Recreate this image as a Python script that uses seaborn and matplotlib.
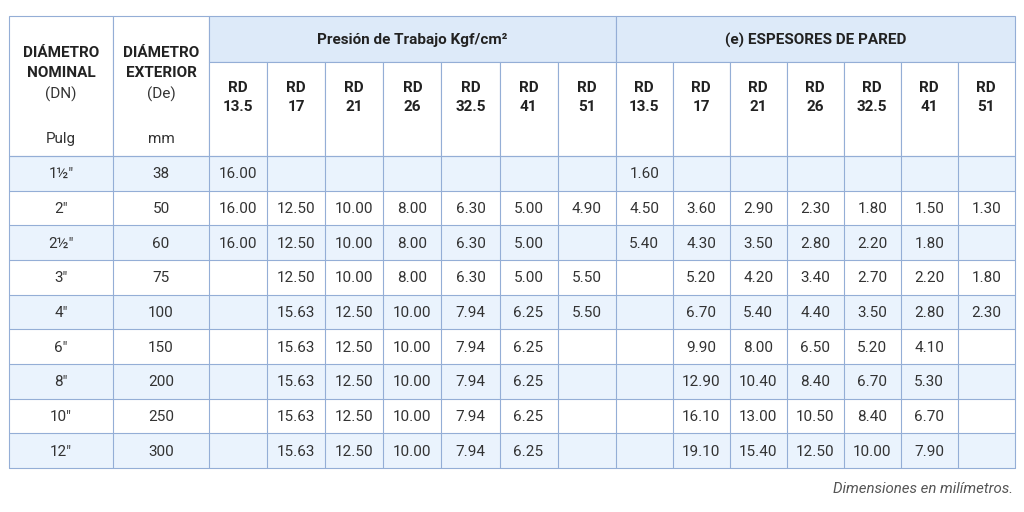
import numpy as np
import pandas as pd
import seaborn as sns
import matplotlib
matplotlib.use("Agg")
import matplotlib.pyplot as plt
from matplotlib.colors import ListedColormap
from matplotlib.patches import Rectangle

# ---------------- data ----------------
dn_labels = ['1½"', '2"', '2½"', '3"', '4"', '6"', '8"', '10"', '12"']
de_mm = [38, 50, 60, 75, 100, 150, 200, 250, 300]
rd_labels = ["13.5", "17", "21", "26", "32.5", "41", "51"]
N = None
pressure = [
    [16.00, N, N, N, N, N, N],
    [16.00, 12.50, 10.00, 8.00, 6.30, 5.00, 4.90],
    [16.00, 12.50, 10.00, 8.00, 6.30, 5.00, N],
    [N, 12.50, 10.00, 8.00, 6.30, 5.00, 5.50],
    [N, 15.63, 12.50, 10.00, 7.94, 6.25, 5.50],
    [N, 15.63, 12.50, 10.00, 7.94, 6.25, N],
    [N, 15.63, 12.50, 10.00, 7.94, 6.25, N],
    [N, 15.63, 12.50, 10.00, 7.94, 6.25, N],
    [N, 15.63, 12.50, 10.00, 7.94, 6.25, N],
]
wall = [
    [1.60, N, N, N, N, N, N],
    [4.50, 3.60, 2.90, 2.30, 1.80, 1.50, 1.30],
    [5.40, 4.30, 3.50, 2.80, 2.20, 1.80, N],
    [N, 5.20, 4.20, 3.40, 2.70, 2.20, 1.80],
    [N, 6.70, 5.40, 4.40, 3.50, 2.80, 2.30],
    [N, 9.90, 8.00, 6.50, 5.20, 4.10, N],
    [N, 12.90, 10.40, 8.40, 6.70, 5.30, N],
    [N, 16.10, 13.00, 10.50, 8.40, 6.70, N],
    [N, 19.10, 15.40, 12.50, 10.00, 7.90, N],
]
left_headers = [["DIÁMETRO", "NOMINAL", "(DN)", "Pulg"],
                ["DIÁMETRO", "EXTERIOR", "(De)", "mm"]]
group_titles = ["Presión de Trabajo Kgf/cm²", "(e) ESPESORES DE PARED"]
footnote = "Dimensiones en milímetros."

# ---------------- style ----------------
sns.set_theme(style="white")
plt.rcParams['font.family'] = ['Roboto', 'DejaVu Sans']

LINE = "#94aed6"
STRIPE = "#eaf3fd"
HEAD = "#ddeaf9"
TXT = "#333333"
HTXT = "#222222"
FS = 11
BW = "bold"

fig = plt.figure(figsize=(10.24, 5.12), dpi=100)
ax = fig.add_axes([0, 0, 1, 1])
ax.set_xlim(0, 1024)
ax.set_ylim(512, 0)
ax.axis("off")

# layout
x0 = 9
col_w = [104, 96] + [58.1] * 7 + [57.0] * 7
x_edges = np.concatenate([[x0], x0 + np.cumsum(col_w)])
y_top, y_mid, y_head = 16, 62, 156
n_rows = len(dn_labels)
row_h = (468 - y_head) / n_rows
y_edges = y_head + row_h * np.arange(n_rows + 1)

# body cells
stripe = np.array([[r % 2] * len(col_w) for r in range(n_rows)])
ax.pcolormesh(x_edges, y_edges, stripe, cmap=ListedColormap([STRIPE, "#ffffff"]),
              shading="flat")
for xe in x_edges:
    ax.plot([xe, xe], [y_edges[0], y_edges[-1]], color=LINE, lw=0.8)
for ye in y_edges:
    ax.plot([x_edges[0], x_edges[-1]], [ye, ye], color=LINE, lw=0.8)

# header cells
def cell(xa, xb, ya, yb, fc):
    ax.add_patch(Rectangle((xa, ya), xb - xa, yb - ya, facecolor=fc,
                           edgecolor=LINE, linewidth=0.8))

cell(x_edges[0], x_edges[1], y_top, y_head, "white")
cell(x_edges[1], x_edges[2], y_top, y_head, "white")
cell(x_edges[2], x_edges[9], y_top, y_mid, HEAD)
cell(x_edges[9], x_edges[16], y_top, y_mid, HEAD)
for j in range(2, 16):
    cell(x_edges[j], x_edges[j + 1], y_mid, y_head, "white")

# header text
for k, lines in enumerate(left_headers):
    cx = (x_edges[k] + x_edges[k + 1]) / 2
    ax.text(cx, 53, lines[0], ha="center", va="center", fontsize=FS, fontweight=BW, color=HTXT)
    ax.text(cx, 73, lines[1], ha="center", va="center", fontsize=FS, fontweight=BW, color=HTXT)
    ax.text(cx, 94, lines[2], ha="center", va="center", fontsize=FS, color=TXT)
    ax.text(cx, 139, lines[3], ha="center", va="center", fontsize=FS, color=TXT)

ax.text((x_edges[2] + x_edges[9]) / 2, 40, group_titles[0], ha="center", va="center",
        fontsize=FS, fontweight=BW, color=HTXT)
ax.text((x_edges[9] + x_edges[16]) / 2, 40, group_titles[1], ha="center", va="center",
        fontsize=FS, fontweight=BW, color=HTXT)

for j in range(14):
    cx = (x_edges[j + 2] + x_edges[j + 3]) / 2
    ax.text(cx, 88, "RD", ha="center", va="center", fontsize=FS, fontweight=BW, color=HTXT)
    ax.text(cx, 107, rd_labels[j % 7], ha="center", va="center", fontsize=FS, fontweight=BW, color=HTXT)

# body text
for r in range(n_rows):
    cy = (y_edges[r] + y_edges[r + 1]) / 2 + 1
    ax.text((x_edges[0] + x_edges[1]) / 2, cy, dn_labels[r], ha="center", va="center", fontsize=FS, color=TXT)
    ax.text((x_edges[1] + x_edges[2]) / 2, cy, str(de_mm[r]), ha="center", va="center", fontsize=FS, color=TXT)
    vals = pressure[r] + wall[r]
    for j, v in enumerate(vals):
        if v is None:
            continue
        cx = (x_edges[j + 2] + x_edges[j + 3]) / 2
        ax.text(cx, cy, f"{v:.2f}", ha="center", va="center", fontsize=FS, color=TXT)

ax.text(x_edges[-1] - 2, 489, footnote, ha="right", va="center", fontsize=10.8,
        style="italic", color="#555555")

fig.savefig("out.png", dpi=100)
